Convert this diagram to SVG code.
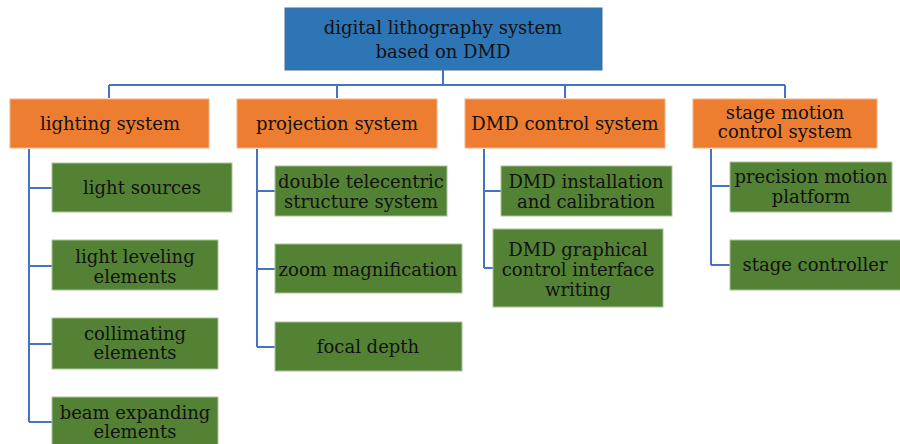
<svg xmlns="http://www.w3.org/2000/svg" width="900" height="444" viewBox="0 0 900 444">
<style>
.root{fill:#2E75B6;stroke:#41719C;stroke-width:1}
.sys{fill:#ED7D31;stroke:#F4B183;stroke-width:1}
.leaf{fill:#548235;stroke:#A9C49A;stroke-width:1}
text{font-family:"DejaVu Serif","Liberation Serif",serif;font-size:18px;fill:#111;text-anchor:middle}
.conn{fill:none;stroke:#4472C4;stroke-width:2}
</style>
<rect width="900" height="444" fill="#fff"/>
<g id="connectors" class="conn">
<path d="M443 70V85M109 85H785M109 85V98M337 85V98M565 85V98M785 85V98"/>
<path d="M29 149V422M29 188H52M29 266H52M29 344H52M29 422H52"/>
<path d="M257 149V347M257 191H275M257 269H275M257 347H275"/>
<path d="M484 149V268M484 191H501M484 268H493"/>
<path d="M711 149V265M711 186H730M711 265H730"/>
</g>
<g id="root"><rect class="root" x="285" y="8" width="317" height="62"/><text x="443" y="34">digital lithography system</text><text x="443" y="58">based on DMD</text></g>
<g id="lighting"><rect class="sys" x="10" y="99" width="199" height="49"/><text x="110" y="130">lighting system</text></g>
<g id="projection"><rect class="sys" x="237" y="99" width="200" height="49"/><text x="337" y="130">projection system</text></g>
<g id="dmdcontrol"><rect class="sys" x="465" y="99" width="200" height="49"/><text x="565" y="130">DMD control system</text></g>
<g id="stage"><rect class="sys" x="693" y="99" width="184" height="49"/><text x="785" y="119">stage motion</text><text x="785" y="138">control system</text></g>
<g id="lightsources"><rect class="leaf" x="52" y="163" width="180" height="49"/><text x="142" y="194">light sources</text></g>
<g id="leveling"><rect class="leaf" x="52" y="240" width="166" height="50"/><text x="135" y="263">light leveling</text><text x="135" y="283">elements</text></g>
<g id="collimating"><rect class="leaf" x="52" y="318" width="166" height="51"/><text x="135" y="340">collimating</text><text x="135" y="359">elements</text></g>
<g id="beam"><rect class="leaf" x="52" y="397" width="166" height="50"/><text x="135" y="419">beam expanding</text><text x="135" y="438">elements</text></g>
<g id="telecentric"><rect class="leaf" x="275" y="166" width="172" height="50"/><text x="361" y="188">double telecentric</text><text x="361" y="208">structure system</text></g>
<g id="zoom"><rect class="leaf" x="275" y="244" width="187" height="49"/><text x="368" y="276">zoom magnification</text></g>
<g id="focal"><rect class="leaf" x="275" y="322" width="187" height="49"/><text x="368" y="353">focal depth</text></g>
<g id="installation"><rect class="leaf" x="501" y="166" width="171" height="50"/><text x="586" y="188">DMD installation</text><text x="586" y="208">and calibration</text></g>
<g id="graphical"><rect class="leaf" x="493" y="229" width="170" height="78"/><text x="578" y="256">DMD graphical</text><text x="578" y="276">control interface</text><text x="578" y="296">writing</text></g>
<g id="precision"><rect class="leaf" x="730" y="162" width="162" height="50"/><text x="811" y="183">precision motion</text><text x="811" y="203">platform</text></g>
<g id="controller"><rect class="leaf" x="730" y="240" width="172" height="50"/><text x="815" y="271">stage controller</text></g>
</svg>
